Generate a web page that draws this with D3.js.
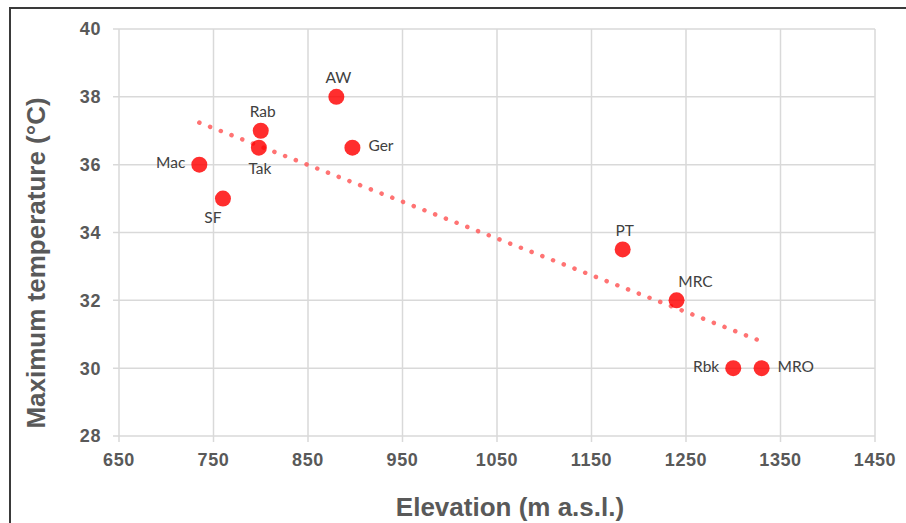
<!DOCTYPE html>
<html>
<head>
<meta charset="utf-8">
<script src="https://cdn.jsdelivr.net/npm/d3@7"></script>
<style>
  html, body { margin: 0; padding: 0; background: #fff; }
  svg { display: block; }
</style>
</head>
<body>
<div id="chart"></div>
<script>
// site codes, elevation (m a.s.l.) and maximum temperature (°C)
const sites = ['Mac', 'SF', 'Rab', 'Tak', 'AW', 'Ger', 'PT', 'MRC', 'Rbk', 'MRO']
const elevation = [735, 760, 800, 798, 880, 897, 1183, 1240, 1300, 1330]
const maxTemp = [36, 35, 37, 36.5, 38, 36.5, 33.5, 32, 30, 30]
const xTicks = [650, 750, 850, 950, 1050, 1150, 1250, 1350, 1450]
const yTicks = [28, 30, 32, 34, 36, 38, 40]

// where each site label goes relative to its marker
const labelSide = {
  Mac: 'left', SF: 'belowleft', Rab: 'above', Tak: 'below', AW: 'above',
  Ger: 'right', PT: 'above', MRC: 'aboveright', Rbk: 'left', MRO: 'right'
}

const width = 906, height = 523
const plot = { left: 119, right: 875, top: 29, bottom: 436 }

const svg = d3.select('#chart').append('svg')
  .attr('width', width)
  .attr('height', height)

// frame round the figure
svg.append('path')
  .attr('d', `M10,${height} L10,8 L${width},8`)
  .attr('fill', 'none')
  .attr('stroke', '#3a3a3a')
  .attr('stroke-width', 2)

const x = d3.scaleLinear().domain([650, 1450]).range([plot.left, plot.right])
const y = d3.scaleLinear().domain([28, 40]).range([plot.bottom, plot.top])

// gridlines
svg.append('g')
  .selectAll('line')
  .data(xTicks)
  .enter().append('line')
    .attr('x1', d => x(d)).attr('x2', d => x(d))
    .attr('y1', plot.top).attr('y2', plot.bottom + 6)
    .attr('stroke', '#d9d9d9')
    .attr('stroke-width', 1.5)

svg.append('g')
  .selectAll('line')
  .data(yTicks)
  .enter().append('line')
    .attr('x1', plot.left - 6).attr('x2', plot.right)
    .attr('y1', d => y(d)).attr('y2', d => y(d))
    .attr('stroke', '#d9d9d9')
    .attr('stroke-width', 1.5)

// tick labels
const tickFont = '"Liberation Sans", Arial, sans-serif'
svg.append('g')
  .selectAll('text')
  .data(xTicks)
  .enter().append('text')
    .attr('x', d => x(d))
    .attr('y', plot.bottom + 30)
    .attr('text-anchor', 'middle')
    .style('font-family', tickFont)
    .style('font-weight', 'bold')
    .style('font-size', '18px')
    .style('letter-spacing', '0.6px')
    .attr('fill', '#595959')
    .text(d => d)

svg.append('g')
  .selectAll('text')
  .data(yTicks)
  .enter().append('text')
    .attr('x', plot.left - 18)
    .attr('y', d => y(d))
    .attr('dy', '0.36em')
    .attr('text-anchor', 'end')
    .style('font-family', tickFont)
    .style('font-weight', 'bold')
    .style('font-size', '18px')
    .style('letter-spacing', '0.6px')
    .attr('fill', '#595959')
    .text(d => d)

// axis titles
svg.append('text')
  .attr('x', 510)
  .attr('y', 516)
  .attr('text-anchor', 'middle')
  .style('font-family', tickFont)
  .style('font-weight', 'bold')
  .style('font-size', '26px')
  .attr('fill', '#595959')
  .text('Elevation (m a.s.l.)')

svg.append('text')
  .attr('transform', 'translate(45,263) rotate(-90)')
  .attr('text-anchor', 'middle')
  .style('font-family', tickFont)
  .style('font-weight', 'bold')
  .style('font-size', '26px')
  .attr('fill', '#595959')
  .text('Maximum temperature (°C)')

// linear trendline (least squares) over the points
const points = sites.map((s, i) => ({ name: s, x: elevation[i], y: maxTemp[i] }))
const mx = d3.mean(points, d => d.x)
const my = d3.mean(points, d => d.y)
const slope = d3.sum(points, d => (d.x - mx) * (d.y - my)) / d3.sum(points, d => (d.x - mx) ** 2)
const icpt = my - slope * mx
const [x0, x1] = d3.extent(elevation)

svg.append('line')
  .attr('x1', x(x0)).attr('y1', y(icpt + slope * x0))
  .attr('x2', x(x1)).attr('y2', y(icpt + slope * x1))
  .attr('stroke', '#ff5a5a')
  .attr('stroke-opacity', 0.85)
  .attr('stroke-width', 4.5)
  .attr('stroke-linecap', 'round')
  .attr('stroke-dasharray', '0.1 11.4')

// markers
svg.append('g')
  .selectAll('circle')
  .data(points)
  .enter().append('circle')
    .attr('cx', d => x(d.x))
    .attr('cy', d => y(d.y))
    .attr('r', 8)
    .attr('fill', '#ff0000')
    .attr('fill-opacity', 0.82)

// site labels
const offsets = {
  left: [-14, -2, 'end'],
  right: [16, -2, 'start'],
  above: [2, -19, 'middle'],
  below: [1, 21, 'middle'],
  belowleft: [-10, 19, 'middle'],
  aboveright: [19, -19, 'middle']
}

svg.append('g')
  .selectAll('text')
  .data(points)
  .enter().append('text')
    .attr('x', d => x(d.x) + offsets[labelSide[d.name]][0])
    .attr('y', d => y(d.y) + offsets[labelSide[d.name]][1])
    .attr('dy', '0.35em')
    .attr('text-anchor', d => offsets[labelSide[d.name]][2])
    .style('font-family', 'Lato, "Open Sans", sans-serif')
    .style('font-size', '15.5px')
    .attr('fill', '#404040')
    .text(d => d.name)
</script>
</body>
</html>
